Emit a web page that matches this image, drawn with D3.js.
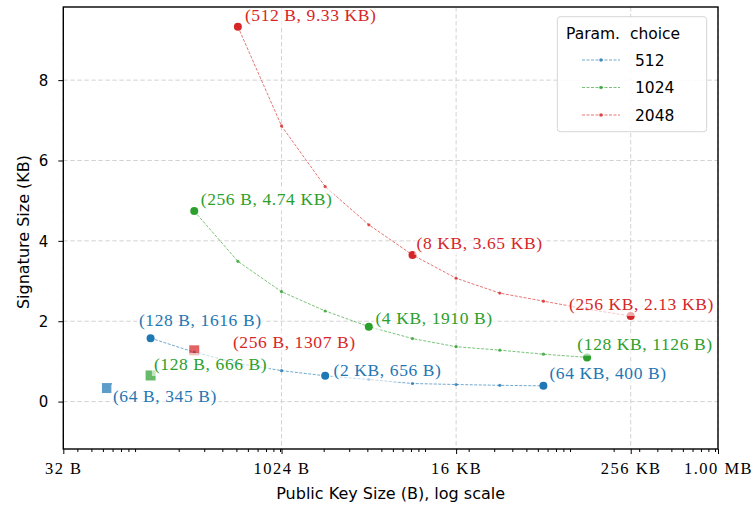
<!DOCTYPE html>
<html lang="en">
<head>
<meta charset="UTF-8">
<title>Public key size vs signature size</title>
<script src="https://d3js.org/d3.v7.min.js"></script>
<style>
  body { margin: 0; background: #fff; }
  svg { display: block; }
  .sans { font-family: "DejaVu Sans", sans-serif; fill: #000; }
  .serif { font-family: "Liberation Serif", serif; }
</style>
</head>
<body>
<div id="chart"></div>
<script>
// ---- data (x in bytes, y in KB) ----
const seriesNames = ["512", "1024", "2048"];
const seriesColors = ["#1f77b4", "#2ca02c", "#d62728"];

const keys512 = [128, 256, 512, 1024, 2048, 4096, 8192, 16384, 32768, 65536];
const sig512 = [1.578, 1.23, 0.95, 0.77, 0.641, 0.55, 0.45, 0.425, 0.405, 0.391];

const keys1024 = [256, 512, 1024, 2048, 4096, 8192, 16384, 32768, 65536, 131072];
const sig1024 = [4.74, 3.49, 2.735, 2.255, 1.865, 1.568, 1.366, 1.28, 1.18, 1.1];

const keys2048 = [512, 1024, 2048, 4096, 8192, 16384, 32768, 65536, 131072, 262144];
const sig2048 = [9.33, 6.86, 5.35, 4.40, 3.65, 3.07, 2.70, 2.50, 2.30, 2.13];

// highlighted points (index into each series)
const highlightIdx = [0, 4, 9];

// the single-point variants drawn as squares
const squareKeys = [64, 128, 256];
const squareSigs = [0.337, 0.650, 1.276];

const labelTexts = [
  ["(128 B, 1616 B)", "(2 KB, 656 B)", "(64 KB, 400 B)"],
  ["(256 B, 4.74 KB)", "(4 KB, 1910 B)", "(128 KB, 1126 B)"],
  ["(512 B, 9.33 KB)", "(8 KB, 3.65 KB)", "(256 KB, 2.13 KB)"]
];
const squareLabels = ["(64 B, 345 B)", "(128 B, 666 B)", "(256 B, 1307 B)"];

const xTickValues = [32, 1024, 16384, 262144, 1048576];
const xTickLabels = ["32 B", "1024 B", "16 KB", "256 KB", "1.00 MB"];
const yTickValues = [0, 2, 4, 6, 8];

// label placement (pixel offset of text start / baseline from its point)
const labelOffsets = [
  [[-11.7, -12.3], [8.4, 0], [6, -6.5]],
  [[6.5, -6], [6.6, -3], [-9.7, -7.7]],
  [[7, -5.8], [4, -6], [-61.7, -6]]
];
const squareOffsets = [[6, 13.5], [3.3, -5.5], [38.7, -2.8]];

const series = [
  { keys: keys512, sigs: sig512 },
  { keys: keys1024, sigs: sig1024 },
  { keys: keys2048, sigs: sig2048 }
];

// ---- layout ----
const width = 753, height = 508;
const plot = { left: 63.3, right: 718, top: 7, bottom: 449 };

const svg = d3.select("#chart").append("svg")
  .attr("width", width).attr("height", height);

const x = d3.scaleLog().base(2)
  .domain([32, 1048576])
  .range([plot.left, plot.right]);

const y = d3.scaleLinear()
  .domain([-1.18, 9.82])
  .range([plot.bottom, plot.top]);

// minor ticks: the usual base-10 subdivisions that fall in the range
const minorTicks = [];
for (let e = 1; e <= 6; e++) {
  for (let m = 1; m <= 9; m++) {
    const v = m * Math.pow(10, e);
    if (v > 32 && v < 1048576) minorTicks.push(v);
  }
}

// grid
const grid = svg.append("g")
  .attr("stroke", "#d3d3d3")
  .attr("stroke-width", 1)
  .attr("stroke-dasharray", "4.5,2.5");
grid.selectAll(".gx").data(xTickValues).join("line")
  .attr("x1", d => x(d)).attr("x2", d => x(d))
  .attr("y1", plot.top).attr("y2", plot.bottom);
grid.selectAll(".gy").data(yTickValues).join("line")
  .attr("x1", plot.left).attr("x2", plot.right)
  .attr("y1", d => y(d)).attr("y2", d => y(d));

// axes
const xAxis = svg.append("g")
  .attr("transform", `translate(0,${plot.bottom})`)
  .call(d3.axisBottom(x).tickValues(xTickValues)
    .tickFormat((d, i) => xTickLabels[i]).tickSize(5));
xAxis.select(".domain").remove();
xAxis.selectAll("text")
  .attr("class", "serif")
  .attr("y", 25).attr("dy", 0)
  .attr("font-size", "16.5px")
  .attr("letter-spacing", "1.5px")
  .attr("fill", "#000");

const xMinor = svg.append("g")
  .attr("transform", `translate(0,${plot.bottom})`)
  .call(d3.axisBottom(x).tickValues(minorTicks).tickFormat("").tickSize(3));
xMinor.select(".domain").remove();

const yAxis = svg.append("g")
  .attr("transform", `translate(${plot.left},0)`)
  .call(d3.axisLeft(y).tickValues(yTickValues).tickSize(5).tickPadding(10));
yAxis.select(".domain").remove();
yAxis.selectAll("text")
  .attr("class", "sans")
  .attr("font-size", "15px")
  .attr("dy", "0.36em");

svg.selectAll(".tick line").attr("stroke", "#000").attr("stroke-width", 1);

// series lines and markers
const line = d3.line().x(d => x(d[0])).y(d => y(d[1]));

series.forEach((s, si) => {
  const pts = s.keys.map((k, i) => [k, s.sigs[i]]);
  const g = svg.append("g");
  g.append("path")
    .datum(pts)
    .attr("d", line)
    .attr("fill", "none")
    .attr("stroke", seriesColors[si])
    .attr("stroke-opacity", 0.8)
    .attr("stroke-width", 0.8)
    .attr("stroke-dasharray", "3,1.5");
  g.selectAll(".small").data(pts).join("circle")
    .attr("cx", d => x(d[0])).attr("cy", d => y(d[1]))
    .attr("r", 1.6)
    .attr("fill", seriesColors[si])
    .attr("fill-opacity", 0.8);
  g.selectAll(".big").data(highlightIdx.map(i => pts[i])).join("circle")
    .attr("cx", d => x(d[0])).attr("cy", d => y(d[1]))
    .attr("r", 4)
    .attr("fill", seriesColors[si]);
});

// squares
svg.append("g").selectAll("rect")
  .data(squareKeys.map((k, i) => [k, squareSigs[i]]))
  .join("rect")
  .attr("x", d => x(d[0]) - 5).attr("y", d => y(d[1]) - 5)
  .attr("width", 10).attr("height", 10)
  .attr("fill", (d, i) => seriesColors[i])
  .attr("fill-opacity", 0.72);

// annotations with a translucent white box behind the text
function annotate(px, py, text, color) {
  const g = svg.append("g");
  const rect = g.append("rect");
  const t = g.append("text")
    .attr("class", "serif")
    .attr("x", px).attr("y", py)
    .attr("font-size", "17.5px")
    .attr("letter-spacing", "0.6px")
    .attr("fill", color)
    .text(text);
  const bb = t.node().getBBox();
  rect.attr("x", bb.x - 2).attr("y", bb.y - 1)
    .attr("width", bb.width + 4).attr("height", bb.height + 3)
    .attr("fill", "#fff").attr("fill-opacity", 0.6);
}

series.forEach((s, si) => {
  highlightIdx.forEach((pi, j) => {
    const off = labelOffsets[si][j];
    annotate(x(s.keys[pi]) + off[0], y(s.sigs[pi]) + off[1], labelTexts[si][j], seriesColors[si]);
  });
});
squareKeys.forEach((k, i) => {
  const off = squareOffsets[i];
  annotate(x(k) + off[0], y(squareSigs[i]) + off[1], squareLabels[i], seriesColors[i]);
});

// frame
svg.append("rect")
  .attr("x", plot.left).attr("y", plot.top)
  .attr("width", plot.right - plot.left).attr("height", plot.bottom - plot.top)
  .attr("fill", "none").attr("stroke", "#000").attr("stroke-width", 1.4);

// axis titles
svg.append("text").attr("class", "sans")
  .attr("x", (plot.left + plot.right) / 2).attr("y", 499)
  .attr("text-anchor", "middle").attr("font-size", "16px")
  .text("Public Key Size (B), log scale");

svg.append("text").attr("class", "sans")
  .attr("transform", `translate(29,${(plot.top + plot.bottom) / 2 + 4}) rotate(-90)`)
  .attr("text-anchor", "middle").attr("font-size", "16px")
  .text("Signature Size (KB)");

// legend
const legend = svg.append("g");
legend.append("rect")
  .attr("x", 557.3).attr("y", 16.7).attr("width", 149.4).attr("height", 115)
  .attr("rx", 3)
  .attr("fill", "#fff").attr("fill-opacity", 0.85)
  .attr("stroke", "#d6d6d6").attr("stroke-width", 1);
legend.append("text").attr("class", "sans")
  .attr("x", 566).attr("y", 39.3)
  .attr("font-size", "15.5px")
  .style("white-space", "pre")
  .text("Param.  choice");
const entry = legend.selectAll(".entry").data(seriesNames).join("g")
  .attr("transform", (d, i) => `translate(0,${60 + i * 27.5})`);
entry.append("line")
  .attr("x1", 582).attr("x2", 620)
  .attr("stroke", (d, i) => seriesColors[i])
  .attr("stroke-opacity", 0.7)
  .attr("stroke-width", 0.9)
  .attr("stroke-dasharray", "3,1.5");
entry.append("circle")
  .attr("cx", 601).attr("r", 1.8)
  .attr("fill", (d, i) => seriesColors[i])
  .attr("fill-opacity", 0.8);
entry.append("text").attr("class", "sans")
  .attr("x", 635).attr("dy", "0.36em")
  .attr("font-size", "15.5px")
  .text(d => d);
</script>
</body>
</html>
